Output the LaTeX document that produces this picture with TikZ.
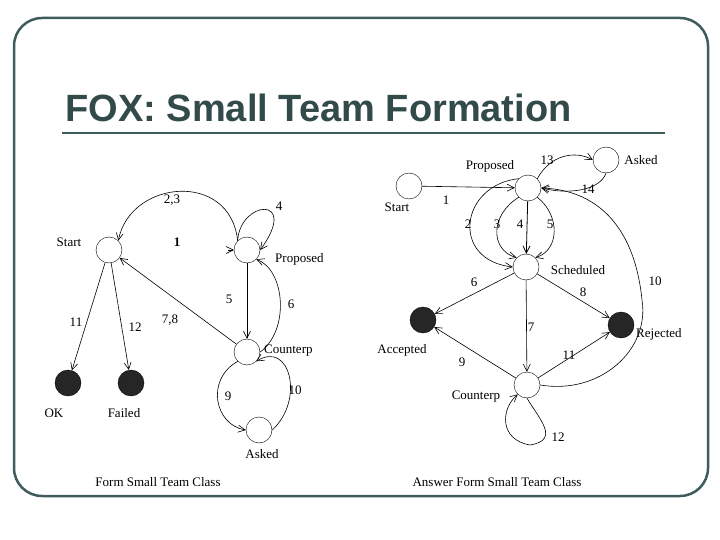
\documentclass[tikz,border=0pt]{standalone}
\usepackage{fontspec}
\setmainfont{Liberation Serif}
\newfontfamily\titlefont{Liberation Sans}
\usetikzlibrary{arrows.meta}
\definecolor{frame}{RGB}{62,92,92}
\begin{document}
\begin{tikzpicture}[x=1pt,y=-1pt,
  st/.style={circle,draw,minimum size=26pt,inner sep=0pt},
  fin/.style={st,fill=black!85},
  lb/.style={font=\fontsize{13}{14}\selectfont,inner sep=1pt},
  ed/.style={-{Straight Barb[length=7pt,width=7pt]},semithick}]
\useasboundingbox (0,0) rectangle (720,540);
\draw[frame,line width=2.5pt,rounded corners=28pt] (14,18) rectangle (708,496);
\node[anchor=west,font=\titlefont\bfseries\fontsize{38}{42}\selectfont,text=frame!80!black] (title) at (62,108) {FOX: Small Team Formation};
\draw[frame,line width=2pt] (62,133) -- (665,133);
% left diagram
\node[st] (ls) at (109,250) {};
\node[st] (lp) at (247,250) {};
\node[st] (lc) at (247,352) {};
\node[st] (la) at (259,430) {};
\node[fin] (lok) at (68,383) {};
\node[fin] (lf) at (131,383) {};
\draw[ed] (lp.north west) .. controls (230,170) and (130,180) .. (ls.north east);
\draw[ed] (lp.north west) .. controls (240,200) and (300,195) .. (lp.east);
\coordinate (lin) at (228,250);
\draw[ed] (lin) -- (lp.west);
\draw[ed] (lp) -- (lc);
\draw[ed] (lc.east) .. controls (290,330) and (285,270) .. (lp.south east);
\draw[ed] (lc) -- (ls);
\draw[ed] (ls) -- (lok);
\draw[ed] (ls) -- (lf);
\draw[ed] (lc.south west) .. controls (205,380) and (215,425) .. (la.west);
\draw[ed] (la.east) .. controls (305,400) and (290,340) .. (lc.south east);
\node[lb] (t1) at (69,242) {Start};
\node[lb,font=\bfseries\fontsize{13}{14}\selectfont] (t2) at (177,242) {1};
\node[lb] (t3) at (172,200) {2,3};
\node[lb] (t4) at (279,206) {4};
\node[lb,anchor=west] (t5) at (274,259) {Proposed};
\node[lb] (t6) at (229,299) {5};
\node[lb] (t7) at (291,304) {6};
\node[lb] (t8) at (76,322) {11};
\node[lb] (t9) at (135,327) {12};
\node[lb] (t10) at (170,320) {7,8};
\node[lb,anchor=west] (t11) at (263,351) {Counterp};
\node[lb] (t12) at (228,396) {9};
\node[lb] (t13) at (295,390) {10};
\node[lb] (t14) at (54,413) {OK};
\node[lb] (t15) at (124,413) {Failed};
\node[lb] (t16) at (262,454) {Asked};
\node[lb] (t17) at (158,482) {Form Small Team Class};
% right diagram
\node[st] (rs) at (409,186) {};
\node[st] (rp) at (528,188) {};
\node[st] (ra) at (606,160) {};
\node[st] (rsc) at (526,267) {};
\node[fin] (rac) at (423,320) {};
\node[fin] (rr) at (621,325) {};
\node[st] (rc) at (527,385) {};
\draw[ed] (rs) -- (rp);
\draw[ed] (rp.north east) .. controls (550,155) and (575,150) .. (ra.west);
\draw[ed] (ra.south) .. controls (600,190) and (570,195) .. (rp.east);
\draw[ed] (rp.north west) .. controls (460,185) and (450,260) .. (rsc.west);
\draw[ed] (rp.south west) .. controls (490,215) and (490,250) .. (rsc.north west);
\draw[ed,thick] (rp) -- (rsc);
\draw[ed] (rp.south east) .. controls (560,215) and (560,250) .. (rsc.north east);
\draw[ed] (rsc) -- (rac);
\draw[ed] (rsc) -- (rr);
\draw[ed] (rsc) -- (rc);
\draw[ed] (rc) -- (rac);
\draw[ed] (rc) -- (rr);
\draw[ed] (rc.east) .. controls (600,395) and (650,350) .. (642,300) .. controls (635,230) and (600,190) .. (rp.east);
\draw[ed] (rc.south) .. controls (540,420) and (560,440) .. (530,445) .. controls (500,440) and (500,410) .. (rc.south west);
\node[lb] (u1) at (490,166) {Proposed};
\node[lb] (u2) at (547,160) {13};
\node[lb] (u3) at (641,160) {Asked};
\node[lb] (u4) at (397,207) {Start};
\node[lb] (u5) at (446,200) {1};
\node[lb] (u6) at (588,189) {14};
\node[lb] (u7) at (468,224) {2};
\node[lb] (u8) at (497,224) {3};
\node[lb] (u9) at (520,224) {4};
\node[lb] (u10) at (550,224) {5};
\node[lb] (u11) at (578,270) {Scheduled};
\node[lb] (u12) at (655,281) {10};
\node[lb] (u13) at (474,282) {6};
\node[lb] (u14) at (583,292) {8};
\node[lb] (u15) at (531,327) {7};
\node[lb,anchor=west] (u16) at (635,334) {Rejected};
\node[lb] (u17) at (402,350) {Accepted};
\node[lb] (u18) at (462,362) {9};
\node[lb] (u19) at (569,355) {11};
\node[lb] (u20) at (476,397) {Counterp};
\node[lb] (u21) at (558,437) {12};
\node[lb] (u22) at (497,482) {Answer Form Small Team Class};
\end{tikzpicture}
\end{document}
